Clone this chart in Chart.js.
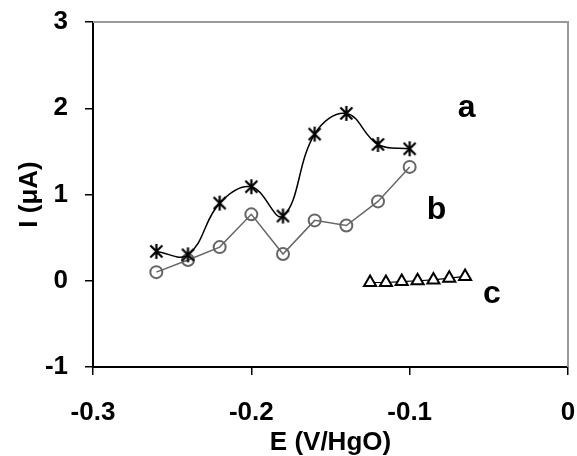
<!DOCTYPE html>
<html>
<head>
<meta charset="utf-8">
<script src="https://cdn.jsdelivr.net/npm/chart.js@4.4.0/dist/chart.umd.min.js"></script>
<style>
  html, body { margin: 0; padding: 0; background: #fff; }
  #wrap { width: 577px; height: 456px; }
</style>
</head>
<body>
<div id="wrap"><canvas id="chart" width="577" height="456"></canvas></div>
<script>
// ===== data =====
const xA = [-0.26, -0.24, -0.22, -0.20, -0.18, -0.16, -0.14, -0.12, -0.10];
const yA = [0.34, 0.30, 0.90, 1.09, 0.75, 1.70, 1.94, 1.58, 1.53];

const xB = [-0.26, -0.24, -0.22, -0.20, -0.18, -0.16, -0.14, -0.12, -0.10];
const yB = [0.10, 0.24, 0.39, 0.77, 0.31, 0.70, 0.64, 0.92, 1.32];

const xC = [-0.125, -0.115, -0.105, -0.095, -0.085, -0.075, -0.065];
const yC = [-0.02, -0.02, -0.01, 0.00, 0.01, 0.03, 0.05];

// curve labels (text + where they sit, in data units)
const curveNames = ['a', 'b', 'c'];
const curveNameX = [-0.064, -0.083, -0.048];
const curveNameY = [2.00, 0.82, -0.15];

const xTickLabels = ['-0.3', '-0.2', '-0.1', '0'];
const yTickLabels = ['-1', '0', '1', '2', '3'];

const FONT = "Arial, 'Liberation Sans', sans-serif";

// asterisk marker: X plus a vertical bar
function makeAsterisk(size) {
  const c = document.createElement('canvas');
  c.width = size; c.height = size;
  const g = c.getContext('2d');
  const m = size / 2, r = size / 2 - 1;
  g.strokeStyle = '#000';
  g.lineWidth = 2.2;
  g.beginPath();
  g.moveTo(m, m - r); g.lineTo(m, m + r);
  const d = r * 0.8;
  g.moveTo(m - d, m - d); g.lineTo(m + d, m + d);
  g.moveTo(m + d, m - d); g.lineTo(m - d, m + d);
  g.stroke();
  return c;
}
const asterisk = makeAsterisk(17);

const toPts = (xs, ys) => xs.map((x, i) => ({ x: x, y: ys[i] }));

// top + right grey frame, and the a/b/c labels
const extras = {
  id: 'extras',
  afterDraw(chart) {
    const { ctx, chartArea: ca, scales } = chart;
    ctx.save();
    ctx.strokeStyle = '#999';
    ctx.lineWidth = 2;
    ctx.beginPath();
    ctx.moveTo(ca.left, ca.top);
    ctx.lineTo(ca.right, ca.top);
    ctx.lineTo(ca.right, ca.bottom);
    ctx.stroke();

    ctx.fillStyle = '#000';
    ctx.font = 'bold 32px ' + FONT;
    ctx.textAlign = 'center';
    ctx.textBaseline = 'middle';
    curveNames.forEach((t, i) => {
      ctx.fillText(t, scales.x.getPixelForValue(curveNameX[i]), scales.y.getPixelForValue(curveNameY[i]));
    });
    ctx.restore();
  }
};

new Chart(document.getElementById('chart'), {
  type: 'scatter',
  data: {
    datasets: [
      {
        label: 'a',
        data: toPts(xA, yA),
        showLine: true,
        borderColor: '#000',
        borderWidth: 1.5,
        tension: 0.4,
        pointStyle: asterisk,
        order: 1
      },
      {
        label: 'b',
        data: toPts(xB, yB),
        showLine: true,
        borderColor: '#666',
        borderWidth: 1.5,
        tension: 0,
        pointStyle: 'circle',
        pointRadius: 6,
        pointBorderWidth: 2,
        pointBorderColor: '#666',
        pointBackgroundColor: 'rgba(255,255,255,0)',
        order: 2
      },
      {
        label: 'c',
        data: toPts(xC, yC),
        showLine: true,
        borderColor: '#000',
        borderWidth: 1.2,
        tension: 0,
        pointStyle: 'triangle',
        pointRadius: 7,
        pointBorderWidth: 2,
        pointBorderColor: '#000',
        pointBackgroundColor: '#fff',
        order: 3
      }
    ]
  },
  options: {
    responsive: false,
    animation: false,
    layout: { padding: { top: 22, right: 9, left: 0, bottom: 0 } },
    plugins: { legend: { display: false }, tooltip: { enabled: false } },
    scales: {
      x: {
        type: 'linear',
        min: -0.3, max: 0,
        ticks: {
          stepSize: 0.1,
          padding: 22,
          color: '#000',
          font: { family: FONT, size: 26, weight: 'bold' },
          callback: (v, i) => xTickLabels[i]
        },
        grid: { drawOnChartArea: false, drawTicks: true, tickLength: 8, color: '#000', lineWidth: 1.5 },
        border: { color: '#000', width: 2 },
        title: {
          display: true, text: 'E (V/HgO)', color: '#000',
          font: { family: FONT, size: 26, weight: 'bold', lineHeight: 1 },
          padding: { top: 0, bottom: 0 }
        },
        afterFit: s => { s.height = 89; s.paddingLeft = 0; s.paddingRight = 0; }
      },
      y: {
        type: 'linear',
        min: -1, max: 3,
        ticks: {
          stepSize: 1,
          padding: 17,
          color: '#000',
          font: { family: FONT, size: 26, weight: 'bold' },
          callback: (v, i) => yTickLabels[i]
        },
        grid: { drawOnChartArea: false, drawTicks: true, tickLength: 8, color: '#000', lineWidth: 1.5 },
        border: { color: '#000', width: 2 },
        title: {
          display: true, text: 'I (μA)', color: '#000',
          font: { family: FONT, size: 26, weight: 'bold', lineHeight: 1 },
          padding: { top: 17, bottom: 0 }
        },
        afterFit: s => { s.width = 93; s.paddingTop = 0; s.paddingBottom = 0; }
      }
    }
  },
  plugins: [extras]
});
</script>
</body>
</html>
